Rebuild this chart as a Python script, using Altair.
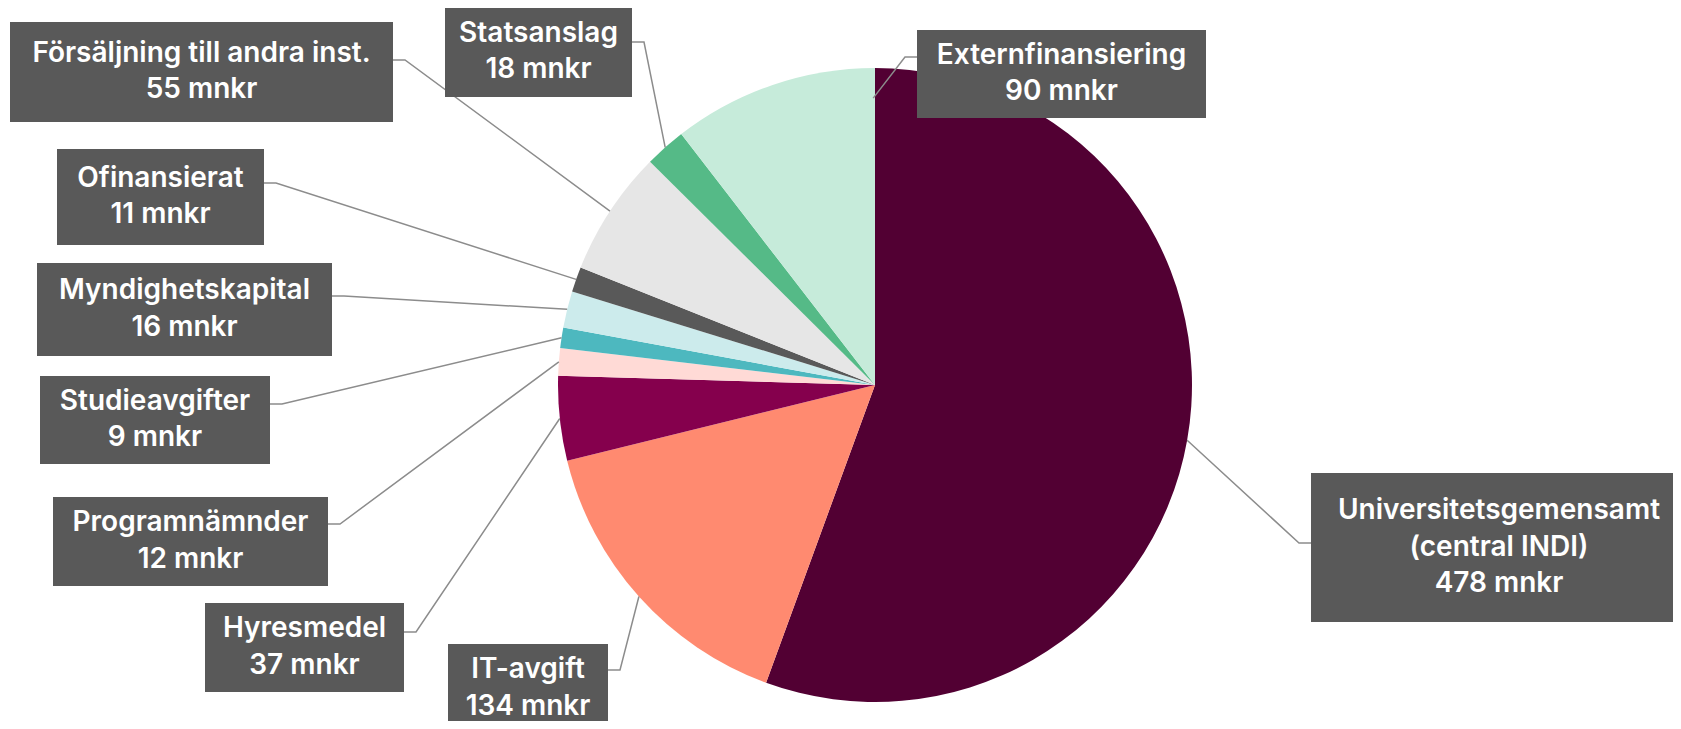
import math
import altair as alt
import pandas as pd

# ---- data ----
categories = [
    "Universitetsgemensamt (central INDI)",
    "IT-avgift",
    "Hyresmedel",
    "Programnämnder",
    "Studieavgifter",
    "Myndighetskapital",
    "Ofinansierat",
    "Försäljning till andra inst.",
    "Statsanslag",
    "Externfinansiering",
]
values = [478, 134, 37, 12, 9, 16, 11, 55, 18, 90]
label_names = [
    "Universitetsgemensamt\n(central INDI)",
    "IT-avgift",
    "Hyresmedel",
    "Programnämnder",
    "Studieavgifter",
    "Myndighetskapital",
    "Ofinansierat",
    "Försäljning till andra inst.",
    "Statsanslag",
    "Externfinansiering",
]
unit = "mnkr"

# ---- styles ----
colors = ["#520033", "#FF8A70", "#85004D", "#FFDAD6", "#4DB8BF",
          "#CCEBEC", "#595959", "#E6E6E6", "#55BA87", "#C6EBDA"]
BOX_COLOR = "#595959"
LINE_COLOR = "#8C8C8C"
FONT = "Inter"
FONT_SIZE = 28
LINE_H = 36.5

# ---- layout (screen pixels) ----
OFF = 8
W, H = 1665, 713
CX, CY, R = 875 - OFF, 385 - OFF, 317
# box x0, x1, y0, y1, leader side, leader y
boxes = [
    (1311, 1687, 473, 622, "left", 543),
    (448, 608, 644, 733, "right", 670),
    (205, 404, 603, 692, "right", 632),
    (53, 328, 497, 586, "right", 524),
    (40, 270, 376, 464, "right", 404),
    (37, 332, 263, 356, "right", 296),
    (57, 264, 149, 245, "right", 183),
    (10, 393, 22, 122, "right", 60),
    (445, 632, 7, 97, "right", 42),
    (917, 1206, 30, 118, "left", 57),
]
ELBOW = 12
# anchor overrides: (angle fraction of full turn, radius fraction)
anchor_override = {9: (0.999, 0.905)}

total = sum(values)
pie_df = pd.DataFrame({"category": categories, "value": values,
                       "order": list(range(len(values)))})

box_rows, text_rows, line_rows = [], [], []
cum = 0
for i, (name, v) in enumerate(zip(label_names, values)):
    a0 = cum / total
    cum += v
    a1 = cum / total
    frac, rf = anchor_override.get(i, ((a0 + a1) / 2, 1.0))
    ang = frac * 2 * math.pi
    ax = CX + R * rf * math.sin(ang)
    ay = CY - R * rf * math.cos(ang)
    x0, x1, y0, y1, side, ly = boxes[i]
    x0 -= OFF; x1 -= OFF; y0 -= OFF; y1 -= OFF; ly -= OFF
    box_rows.append({"label": name, "x0": x0, "x1": x1, "y0": y0, "y1": y1})
    txt = f"{name}\n{v} {unit}"
    n = txt.count("\n") + 1
    text_rows.append({"label": name, "tx": (x0 + x1) / 2,
                      "ty": (y0 + y1) / 2 - (n - 1) * LINE_H / 2,
                      "text": txt})
    if side == "right":
        ex, elb = x1, x1 + ELBOW
    else:
        ex, elb = x0, x0 - ELBOW
    line_rows += [
        {"label": name, "seq": 0, "x": ex, "y": ly},
        {"label": name, "seq": 1, "x": elb, "y": ly},
        {"label": name, "seq": 2, "x": ax, "y": ay},
    ]

box_df = pd.DataFrame(box_rows)
text_df = pd.DataFrame(text_rows)
line_df = pd.DataFrame(line_rows)

xs = alt.Scale(domain=[0, W], range=[0, W], nice=False, zero=False)
ys = alt.Scale(domain=[0, H], range=[0, H], nice=False, zero=False)

pie = alt.Chart(pie_df).mark_arc(radius=R).encode(
    theta=alt.Theta("value:Q", stack=True),
    order=alt.Order("order:Q"),
    color=alt.Color("category:N", scale=alt.Scale(domain=categories, range=colors), legend=None),
    x=alt.value(CX),
    y=alt.value(CY),
)

lines = alt.Chart(line_df).mark_line(color=LINE_COLOR, strokeWidth=1.5).encode(
    x=alt.X("x:Q", scale=xs, axis=None),
    y=alt.Y("y:Q", scale=ys, axis=None),
    detail="label:N",
    order="seq:Q",
)

rects = alt.Chart(box_df).mark_rect(color=BOX_COLOR).encode(
    x=alt.X("x0:Q", scale=xs, axis=None),
    x2="x1:Q",
    y=alt.Y("y0:Q", scale=ys, axis=None),
    y2="y1:Q",
)

texts = alt.Chart(text_df).mark_text(
    font=FONT, fontSize=FONT_SIZE, fontWeight=600, color="white",
    lineBreak="\n", lineHeight=LINE_H, align="center", baseline="middle",
).encode(
    x=alt.X("tx:Q", scale=xs, axis=None),
    y=alt.Y("ty:Q", scale=ys, axis=None),
    text="text:N",
)

chart = alt.layer(pie, lines, rects, texts).properties(
    width=W, height=H, padding=0, autosize="none", background="white"
).configure_view(stroke=None)

chart.save("out.html", embed_options={"renderer": "svg", "actions": False})
